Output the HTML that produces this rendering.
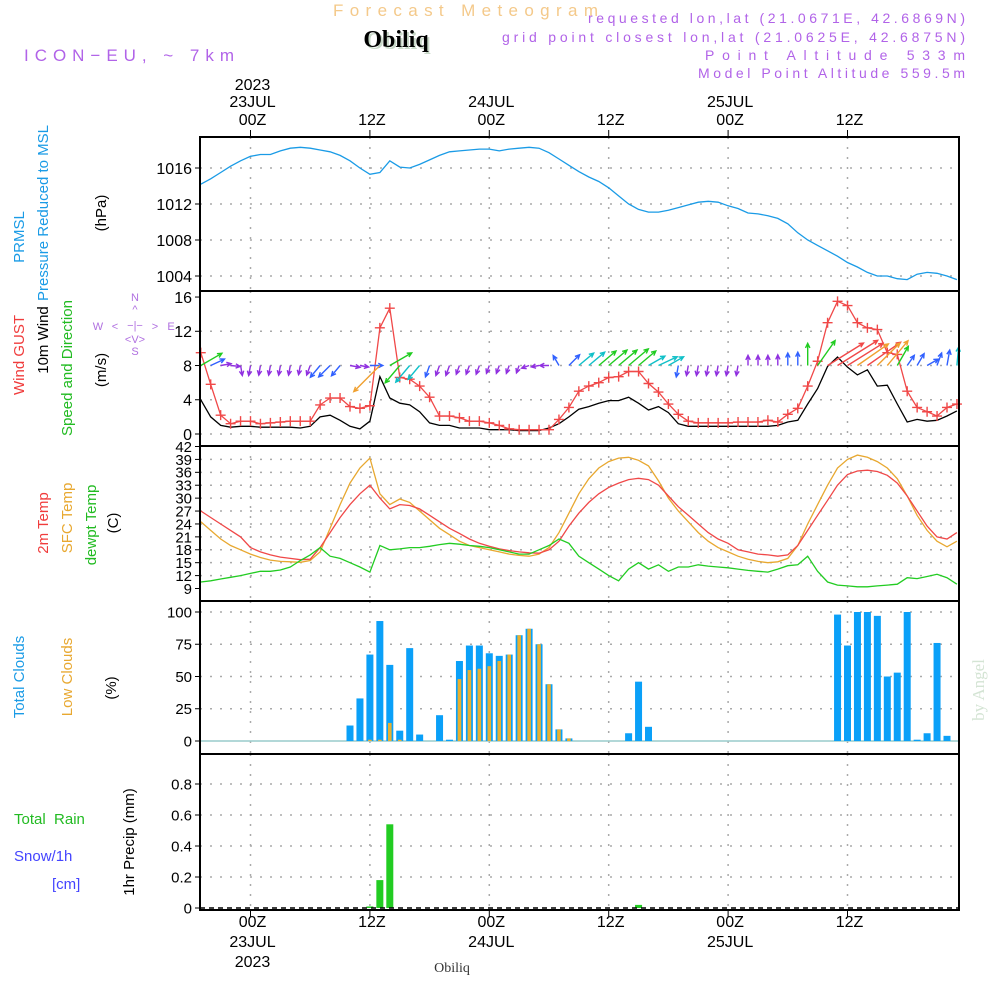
<!DOCTYPE html>
<html><head><meta charset="utf-8"><style>
html,body{margin:0;padding:0;background:#fff;}
svg{display:block;font-family:"Liberation Sans",sans-serif;}
</style></head><body>
<svg id="c" width="1000" height="1000" viewBox="0 0 1000 1000" xmlns="http://www.w3.org/2000/svg">
<g>
<text x="333" y="16" textLength="265" lengthAdjust="spacing" font-size="17" fill="#f4c98a">Forecast Meteogram</text>
<text x="398" y="49" text-anchor="middle" font-size="24" font-weight="bold" font-family="Liberation Serif,serif" fill="#c8d8c8">Obiliq</text>
<text x="396" y="47" text-anchor="middle" font-size="24" font-weight="bold" font-family="Liberation Serif,serif" fill="#000">Obiliq</text>
<text x="24" y="61" textLength="210" lengthAdjust="spacing" font-size="17" fill="#b163e8">ICON−EU, ~ 7km</text>
<g font-size="14" fill="#b163e8">
<text x="588" y="23" textLength="377" lengthAdjust="spacing">requested lon,lat (21.0671E, 42.6869N)</text>
<text x="502" y="42" textLength="463" lengthAdjust="spacing">grid point closest lon,lat (21.0625E, 42.6875N)</text>
<text x="705" y="60" textLength="260" lengthAdjust="spacing">Point Altitude 533m</text>
<text x="698" y="78" textLength="267" lengthAdjust="spacing">Model Point Altitude 559.5m</text>
</g>
</g>
<g font-size="15">
<text transform="translate(24,237) rotate(-90)" text-anchor="middle" fill="#1a9be6">PRMSL</text>
<text transform="translate(48,213) rotate(-90)" text-anchor="middle" fill="#1a9be6">Pressure Reduced to MSL</text>
<text transform="translate(106,213) rotate(-90)" text-anchor="middle" fill="#000">(hPa)</text>
<text transform="translate(24,355) rotate(-90)" text-anchor="middle" fill="#f03c3c">Wind GUST</text>
<text transform="translate(48,340) rotate(-90)" text-anchor="middle" fill="#000">10m Wind</text>
<text transform="translate(72,368) rotate(-90)" text-anchor="middle" fill="#22bb22">Speed and Direction</text>
<text transform="translate(106,370) rotate(-90)" text-anchor="middle" fill="#000">(m/s)</text>
<g fill="#b070e0" font-size="11" text-anchor="middle">
<text x="135" y="301">N</text><text x="135" y="313">^</text><text x="135" y="329">−|−</text>
<text x="98" y="330">W</text><text x="115" y="330">&lt;</text><text x="155" y="330">&gt;</text><text x="171" y="330">E</text>
<text x="135" y="343">&lt;V&gt;</text><text x="135" y="355">S</text>
</g>
<text transform="translate(48,523) rotate(-90)" text-anchor="middle" fill="#f03c3c">2m Temp</text>
<text transform="translate(72,518) rotate(-90)" text-anchor="middle" fill="#e8a830">SFC Temp</text>
<text transform="translate(96,525) rotate(-90)" text-anchor="middle" fill="#22bb22">dewpt Temp</text>
<text transform="translate(118,523) rotate(-90)" text-anchor="middle" fill="#000">(C)</text>
<text transform="translate(24,677) rotate(-90)" text-anchor="middle" fill="#1a9be6">Total Clouds</text>
<text transform="translate(72,677) rotate(-90)" text-anchor="middle" fill="#e8a830">Low Clouds</text>
<text transform="translate(116,688) rotate(-90)" text-anchor="middle" fill="#000">(%)</text>
<text x="14" y="824" fill="#22bb22" xml:space="preserve">Total  Rain</text>
<text x="14" y="861" fill="#4444ff">Snow/1h</text>
<text x="52" y="889" fill="#4444ff">[cm]</text>
<text transform="translate(134,842) rotate(-90)" text-anchor="middle" fill="#000">1hr Precip (mm)</text>
</g>
<text transform="translate(984,690) rotate(-90)" text-anchor="middle" font-size="17" font-family="Liberation Serif,serif" fill="#d4e4d4">by Angel</text>
<text x="452" y="972" text-anchor="middle" font-size="14" font-family="Liberation Serif,serif" fill="#333">Obiliq</text>
</svg>
<script>
// hours from 23JUL 00Z, index 0 = -5h
const hourStart = -5;
const pressure = [1014.2,1014.8,1015.5,1016.2,1016.8, 1017.3,1017.5,1017.5,1017.9,1018.2, 1018.3,1018.2,1018.0,1017.8,1017.4, 1016.8,1016.0,1015.3,1015.5,1016.8, 1016.1,1016.0,1016.4,1016.9,1017.4, 1017.8,1017.9,1018.0,1018.1,1018.1, 1017.9,1018.1,1018.2,1018.3,1018.2, 1017.7,1017.0,1016.3,1015.6,1015.0, 1014.5,1013.8,1012.9,1012.0,1011.4, 1011.1,1011.1,1011.3,1011.6,1011.9, 1012.2,1012.3,1012.2,1011.8,1011.5, 1011.0,1010.9,1010.7,1010.4,1009.8, 1008.8,1008.0,1007.4,1006.8,1006.2, 1005.5,1005.0,1004.4,1004.0,1004.0, 1003.7,1003.6,1004.2,1004.4,1004.3, 1004.0,1003.6];
const gust = [9.5,5.8,2.2,1.2,1.5, 1.5,1.2,1.3,1.4,1.5, 1.5,1.5,3.4,4.2,4.2, 3.2,3.0,3.3,12.4,14.7, 6.6,6.4,5.6,4.3,2.1, 2.1,1.9,1.5,1.5,1.3, 1.0,0.6,0.5,0.5,0.5, 0.5,1.7,3.1,5.0,5.6, 6.0,6.6,6.7,7.3,7.3, 5.9,4.9,3.5,2.3,1.5, 1.3,1.3,1.3,1.3,1.4, 1.4,1.4,1.6,1.4,2.3, 3.0,5.6,8.5,13.0,15.5, 15.0,13.0,12.4,12.2,9.5, 9.3,5.0,3.1,2.6,2.1, 3.1,3.5];
const windSpeed = [4.0,2.0,1.0,0.8,0.9, 0.9,0.8,0.8,0.8,0.8, 0.7,0.9,2.0,2.2,1.6, 0.9,0.6,1.5,6.7,4.2, 3.6,3.4,2.6,1.3,1.0, 1.0,0.7,0.7,0.7,0.5, 0.5,0.5,0.4,0.4,0.4, 0.7,1.2,2.0,2.9,3.2, 3.6,3.9,3.9,4.3,3.6, 2.8,3.2,2.5,1.2,0.9, 0.9,0.9,0.9,0.9,0.9, 0.9,0.9,0.9,1.0,1.4, 1.6,3.5,5.3,7.9,9.0, 7.8,6.9,7.5,5.6,5.7, 3.5,1.4,1.7,1.5,1.6, 2.1,2.7];
const windDir = [60,65,80,95,170, 190,190,190,190,190, 190,200,220,225,220, 100,100,90,225,60, 220,220,220,200,200, 200,200,200,200,200, 200,200,200,250,260, 270,330,45,50,50, 50,50,50,50,50, 60,65,60,190,190, 190,190,190,190,190, 0,0,0,0,0, 0,0,35,58,58, 58,55,55,45,40, 30,35,30,60,20, 10,5];
const temp2m = [27,25.5,24,22.5,21, 18.5,17.5,16.8,16.3,16.0, 15.7,15.8,18.5,22,25.5, 28.5,31,33,30,27.5, 28.5,28.3,27.5,26,24.5, 23,21.8,20.5,19.5,18.8, 18.2,17.8,17.5,17.3,17.2, 18,20,23.5,26.5,29, 31,32.5,33.5,34.3,34.6, 34.3,33,30.5,28,26, 24,22,20.5,19.5,18, 17.5,17,16.8,16.5,16.8, 19,22.5,26,29.5,33, 35.5,36.3,36.5,36.2,35.3, 33.5,30.5,27,23.5,21, 20.5,22];
const tempSfc = [24.5,22.5,20.5,19,18, 17,16.2,15.6,15.3,15.2, 15.1,15.5,17.5,23,28.5, 33.5,37,39.3,31,28.5, 29.8,29,27,25,23, 21.5,20,19,18.5,18, 17.5,17,16.7,16.5,17, 18.5,22,26.5,31,34.5, 37,38.5,39.3,39.5,38.8, 37.5,34,30,27,24.5, 22,20,18.5,17.5,16.5, 15.8,15.3,15,15.2,16, 19,24,28.5,33,37, 39,40,39.5,38.5,37, 34.5,30.5,26,22.5,20, 18.7,20];
const dewpt = [10.5,10.8,11.2,11.6,12, 12.5,13,13,13.3,14, 15.5,16.8,18.5,16.5,16, 15,14,12.8,19,18, 18.2,18.5,18.5,18.8,19.2, 19.5,19.3,19,18.8,18.5, 18,17.5,17,17,18, 19,20.5,19.5,16.5,15, 13.5,12,10.8,13.5,15, 13.5,14.5,13,14,14, 14.5,14.2,14,13.8,13.5, 13.2,13,12.8,13.5,14.3, 14.5,16.5,13,10.5,9.8, 9.6,9.4,9.4,9.6,9.8, 10,11.5,11.3,11.8,12.3, 11.5,10];
const totalClouds = [0,0,0,0,0, 0,0,0,0,0, 0,0,0,0,0, 12,33,67,93,59, 8,72,5,0,20, 1,62,74,74,68, 66,67,82,87,75, 44,9,2,0,0, 0,0,0,6,46, 11,0,0,0,0, 0,0,0,0,0, 0,0,0,0,0, 0,0,0,0,98, 74,100,100,97,50, 53,100,1,6,76, 4,0];
const lowClouds = [0,0,0,0,0, 0,0,0,0,0, 0,0,0,0,0, 0,0,1,1,14, 1,0,0,0,0, 0,48,55,56,58, 62,67,82,87,75, 44,9,2,0,0, 0,0,0,0,0, 0,0,0,0,0, 0,0,0,0,0, 0,0,0,0,0, 0,0,0,0,0, 0,0,0,0,0, 0,0,0,0,0, 0,0];
const precip = [0,0,0,0,0, 0,0,0,0,0, 0,0,0,0,0, 0,0,0.01,0.18,0.54, 0,0,0,0,0, 0,0,0,0,0, 0,0,0,0,0, 0,0,0,0,0, 0,0,0,0,0.02, 0,0,0,0,0, 0,0,0,0,0, 0,0,0,0,0, 0,0,0,0,0, 0,0,0,0,0, 0,0,0,0,0, 0,0];
const pressTicks = [1004,1008,1012,1016];
const windTicks = [0,4,8,12,16];
const tempTicks = [9,12,15,18,21,24,27,30,33,36,39,42];
const cloudTicks = [0,25,50,75,100];
const precipTicks = ["0","0.2","0.4","0.6","0.8"];
const timeHours = [0,12,24,36,48,60];
const timeTop = [["2023","23JUL","00Z"],["","","12Z"],["","24JUL","00Z"],["","","12Z"],["","25JUL","00Z"],["","","12Z"]];

const svg = document.getElementById('c');
const NS = 'http://www.w3.org/2000/svg';
const L = 200, R = 959;
function mk(tag, attrs, parent){const e=document.createElementNS(NS,tag);for(const k in attrs)e.setAttribute(k,attrs[k]);(parent||svg).appendChild(e);return e;}
const xh = h => 250.5 + h*9.95;
const xi = i => xh(i + hourStart);
const yP = v => 168 + (1016 - v)*9;
const yW = v => 434 - v*8.56;
const yT = v => 588.5 - (v-9)*4.303;
const yC = v => 741 - v*1.29;
const yR = v => 908 - v*155;
const panels = [[137,291],[291,446],[446,601],[601,754],[754,910]];

const grid = mk('g',{});


const gs = {stroke:'#aaa','stroke-width':1.5,'stroke-dasharray':'2,8'};
timeHours.forEach(h=>{panels.forEach(p=>{mk('line',Object.assign({x1:xh(h),x2:xh(h),y1:p[0],y2:p[1]},gs),grid);});});
function hgrid(ys){ys.forEach(y=>mk('line',Object.assign({x1:L,x2:R,y1:y,y2:y},gs),grid));}
hgrid(pressTicks.map(yP)); hgrid(windTicks.slice(0,4).map(yW)); hgrid(tempTicks.slice(1,11).map(yT));
hgrid(cloudTicks.slice(1).map(yC)); hgrid(precipTicks.slice(1).map(v=>yR(+v)));

function ticks(vals, yf, name, fs){
  const g=mk('g',{'font-size':fs,'text-anchor':'end',fill:'#000'});
  
  
  vals.forEach(v=>{const y=yf(+v);const t=mk('text',{x:192,y:y+fs*0.36},g);t.textContent=v;mk('line',{x1:L-5,x2:L,y1:y,y2:y,stroke:'#000'},g);});
}
ticks(pressTicks,yP,'pressure-ticks',16);
ticks(windTicks,yW,'wind-ticks',16);
ticks(tempTicks,yT,'temp-ticks',15);
ticks(cloudTicks,yC,'cloud-ticks',15);
ticks(precipTicks,yR,'precip-ticks',15);

const tg = mk('g',{'font-size':16,'text-anchor':'middle',fill:'#000'});


timeHours.forEach((h,k)=>{const x=xh(h)+2;const lab=timeTop[k];
  [90,107,125].forEach((y,j)=>{if(lab[j]){const t=mk('text',{x:x,y:y},tg);t.textContent=lab[j];}});
  const rev=[lab[2],lab[1],lab[0]];
  [927,947,967].forEach((y,j)=>{if(rev[j]){const t=mk('text',{x:x,y:y},tg);t.textContent=rev[j];}});
  mk('line',{x1:xh(h),x2:xh(h),y1:130,y2:137,stroke:'#000'},tg);
  mk('line',{x1:xh(h),x2:xh(h),y1:910,y2:917,stroke:'#000'},tg);
});

function line(vals, yf, color, name, w){
  const d = vals.map((v,i)=>(i?'L':'M')+xi(i).toFixed(1)+','+yf(v).toFixed(1)).join('');
  const p=mk('path',{d:d,fill:'none',stroke:color,'stroke-width':w||1.3});
  
  
  return p;
}
line(pressure,yP,'#1a9be6','pressure-line');
line(windSpeed,yW,'#000','wind-speed-line');
line(gust,yW,'#f04848','gust-line');
const gm=mk('g',{stroke:'#f04848','stroke-width':1.4});


gust.forEach((v,i)=>{const x=xi(i),y=yW(v);mk('path',{d:`M${x-5},${y}h10M${x},${y-5}v10`},gm);});

function wcol(s){return s<1.2?'#9030e0':s<2.3?'#3060ff':s<3.5?'#10c0c8':s<5.5?'#20cc20':s<7.5?'#f0a030':'#f04848';}
const wa=mk('g',{fill:'none','stroke-width':1.4});


windDir.forEach((d,i)=>{const s=windSpeed[i];const len=6+s*4.6;const a=d*Math.PI/180;
  const x0=xi(i),y0=yW(8),x1=x0+len*Math.sin(a),y1=y0-len*Math.cos(a);
  const h1=a+Math.PI-0.45,h2=a+Math.PI+0.45;
  const p=mk('path',{d:`M${x0.toFixed(1)},${y0.toFixed(1)}L${x1.toFixed(1)},${y1.toFixed(1)}M${(x1+5*Math.sin(h1)).toFixed(1)},${(y1-5*Math.cos(h1)).toFixed(1)}L${x1.toFixed(1)},${y1.toFixed(1)}L${(x1+5*Math.sin(h2)).toFixed(1)},${(y1-5*Math.cos(h2)).toFixed(1)}`,stroke:wcol(s)},wa);
  
  
});

line(tempSfc,yT,'#e8a830','sfc-temp-line');
line(temp2m,yT,'#f04848','temp-2m-line');
line(dewpt,yT,'#22cc22','dewpoint-line');

const cg=mk('g',{});


mk('line',{x1:L,x2:R,y1:741,y2:741,stroke:'#9cc','stroke-width':1.5},cg);
totalClouds.forEach((v,i)=>{if(v<=0)return;const b=mk('rect',{x:xi(i)-3.5,y:yC(v),width:7,height:741-yC(v),fill:'#0aa0f8'},cg);
  
  });
lowClouds.forEach((v,i)=>{if(v<=0)return;const b=mk('rect',{x:xi(i)-1.8,y:yC(v),width:3.6,height:741-yC(v),fill:'#e8b030'},cg);
  
  });

const pg=mk('g',{});


precip.forEach((v,i)=>{if(v<=0)return;const b=mk('rect',{x:xi(i)-3.5,y:yR(v),width:7,height:908-yR(v),fill:'#22cc22'},pg);
  
  });
mk('line',{x1:L,x2:R,y1:908,y2:908,stroke:'#000','stroke-width':1.5,'stroke-dasharray':'5,4'},pg);

const fg=mk('g',{fill:'none',stroke:'#000','stroke-width':2});


panels.forEach(p=>mk('rect',{x:L,y:p[0],width:R-L,height:p[1]-p[0]},fg));
</script>
</body></html>
